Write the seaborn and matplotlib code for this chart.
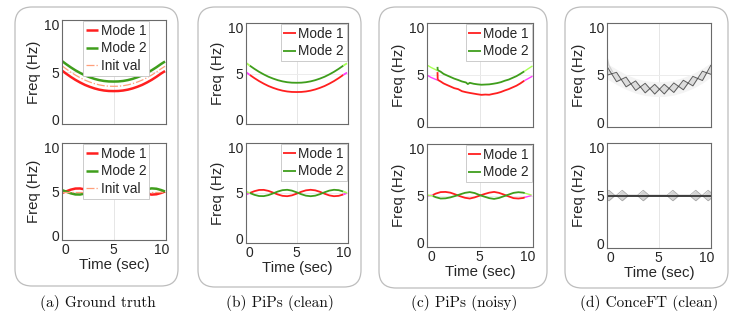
import matplotlib
matplotlib.use("Agg")
import matplotlib.pyplot as plt
from matplotlib.patches import FancyBboxPatch
import numpy as np
import seaborn as sns

# ---- data ----
# time grid (sec) shared by ground truth / clean PiPs curves
t_grid = [-0.4, 0.0, 0.5, 1.0, 1.5, 2.0, 2.5, 3.0, 3.5, 4.0, 4.5, 5.0,
          5.5, 6.0, 6.5, 7.0, 7.5, 8.0, 8.5, 9.0, 9.5, 10.0, 10.4]

# top row: two parabolic chirps (Hz)
mode1_top = [5.15, 4.85, 4.50, 4.18, 3.90, 3.65, 3.45, 3.28, 3.15, 3.06, 3.01, 3.00,
             3.01, 3.06, 3.15, 3.28, 3.45, 3.65, 3.90, 4.18, 4.50, 4.85, 5.10]
mode2_top = [6.15, 5.85, 5.50, 5.18, 4.90, 4.65, 4.45, 4.28, 4.15, 4.06, 4.01, 4.00,
             4.01, 4.06, 4.15, 4.28, 4.45, 4.65, 4.90, 5.18, 5.50, 5.85, 6.10]
init_top = [5.65, 5.35, 5.00, 4.68, 4.40, 4.15, 3.95, 3.78, 3.65, 3.56, 3.51, 3.50,
            3.51, 3.56, 3.65, 3.78, 3.95, 4.15, 4.40, 4.68, 5.00, 5.35, 5.60]

# bottom row: two crossing modes around 5 Hz
mode1_bot = [4.84, 5.00, 5.20, 5.33, 5.34, 5.23, 5.04, 4.84, 4.69, 4.65, 4.74, 4.92,
             5.13, 5.29, 5.35, 5.29, 5.13, 4.92, 4.74, 4.65, 4.69, 4.84, 5.00]
mode2_bot = [5.16, 5.00, 4.80, 4.67, 4.66, 4.77, 4.96, 5.16, 5.31, 5.35, 5.26, 5.08,
             4.87, 4.71, 4.65, 4.71, 4.87, 5.08, 5.26, 5.35, 5.31, 5.16, 5.00]
init_bot = [5.0] * len(t_grid)

# PiPs (noisy), top row
noisy1_t = [0.7, 1.0, 1.3, 1.6, 2.0, 2.4, 2.8, 3.2, 3.6, 4.0, 4.4, 4.8,
            5.2, 5.6, 6.0, 6.4, 6.8, 7.2, 7.6, 8.0, 8.4, 8.8, 9.2, 9.6]
noisy1_f = [4.50, 4.32, 4.12, 3.98, 3.80, 3.62, 3.52, 3.30, 3.20, 3.12, 3.05, 2.98,
            2.92, 2.95, 2.93, 3.02, 3.10, 3.22, 3.38, 3.52, 3.70, 3.88, 4.12, 4.40]
noisy2_t = [0.7, 1.0, 1.3, 1.6, 2.0, 2.4, 2.8, 3.2, 3.6, 3.8, 4.0, 4.4, 4.8,
            5.2, 5.6, 6.0, 6.4, 6.8, 7.2, 7.6, 8.0, 8.4, 8.8, 9.2, 9.6]
noisy2_f = [5.50, 5.35, 5.12, 4.98, 4.80, 4.62, 4.48, 4.32, 4.22, 4.05, 4.18, 4.08, 4.02,
            3.98, 4.00, 4.02, 4.08, 4.15, 4.25, 4.40, 4.52, 4.70, 4.88, 5.12, 5.38]
# start-up transients (vertical jumps) of the noisy estimates
spike_t = [0.68, 0.7]
spike1_f = [5.30, 4.50]
spike2_f = [5.85, 5.50]
edge_t_left = [-0.4, 0.0, 0.7]
edge_t_right = [9.6, 10.0, 10.45]
noisy1_left = [5.00, 4.75, 4.45]
noisy1_right = [4.40, 4.62, 4.88]
noisy2_left = [6.05, 5.80, 5.45]
noisy2_right = [5.38, 5.65, 5.95]

# PiPs (noisy), bottom row
noisyb_t = [0.2, 0.5, 1.0, 1.5, 2.0, 2.5, 3.0, 3.5, 4.0, 4.5, 5.0, 5.5, 6.0,
            6.5, 7.0, 7.5, 8.0, 8.5, 9.0, 9.5, 9.65]
noisyb1 = [5.05, 5.20, 5.36, 5.38, 5.30, 5.12, 4.92, 4.76, 4.68, 4.80, 4.98, 5.15, 5.30,
           5.38, 5.28, 5.10, 4.90, 4.72, 4.68, 4.74, 4.80]
noisyb2 = [4.95, 4.82, 4.68, 4.70, 4.80, 4.95, 5.12, 5.28, 5.36, 5.26, 5.05, 4.88, 4.72,
           4.64, 4.74, 4.92, 5.10, 5.28, 5.35, 5.30, 5.25]
edgeb_t_left = [-0.35, 0.2]
edgeb_t_right = [9.65, 10.35]
noisyb1_left = [4.95, 5.05]
noisyb1_right = [4.80, 5.00]
noisyb2_left = [5.05, 4.95]
noisyb2_right = [5.25, 5.05]

# ConceFT (clean), top: two interfering ridges forming a chain of crosses
cft_t = [-0.4, 0.6, 1.6, 2.6, 3.6, 4.6, 5.6, 6.6, 7.6, 8.6, 9.6, 10.5]
cft_a = [5.90, 4.30, 4.78, 3.38, 4.13, 3.00, 4.03, 3.17, 4.45, 3.86, 5.40, 5.07]
cft_b = [4.98, 5.28, 3.76, 4.38, 3.13, 4.02, 3.01, 4.17, 3.45, 4.86, 4.42, 6.05]
# faint envelope around the ridges
cft_env_hi = [6.2, 5.6, 5.05, 4.65, 4.4, 4.3, 4.3, 4.45, 4.75, 5.15, 5.7, 6.3]
cft_env_lo = [4.6, 4.0, 3.5, 3.1, 2.85, 2.75, 2.75, 2.9, 3.2, 3.6, 4.15, 4.8]
wisp_t = [-0.4, -0.2, 0.2]
wisp_f = [6.9, 6.0, 5.3]

# ConceFT (clean), bottom: ridge at 5 Hz with blobs
cfb_t = [-0.4, -0.2, 0.4, 0.6, 1.2, 1.8, 2.8, 3.4, 4.0,
         5.9, 6.5, 7.1, 8.3, 8.9, 9.5, 9.6, 10.2, 10.5]
cfb_up = [5.45, 5.55, 5.04, 5.04, 5.55, 5.04, 5.04, 5.55, 5.04,
          5.04, 5.55, 5.04, 5.04, 5.55, 5.04, 5.04, 5.55, 5.3]
cfb_lo = [4.55, 4.45, 4.96, 4.96, 4.45, 4.96, 4.96, 4.45, 4.96,
          4.96, 4.45, 4.96, 4.96, 4.45, 4.96, 4.96, 4.45, 4.7]

captions = ["(a) Ground truth", "(b) PiPs (clean)", "(c) PiPs (noisy)", "(d) ConceFT (clean)"]

RED = "#ff1f1f"
GREEN = "#3f9e1c"
MAGENTA = "#ff3dff"
LGREEN = "#a8ff55"
SALMON = "#ff9f7a"

sns.set_style("white")
plt.rcParams["font.family"] = ["Liberation Sans", "DejaVu Sans"]
plt.rcParams["lines.solid_capstyle"] = "butt"

W, H = 739, 319
fig = plt.figure(figsize=(W / 100, H / 100), dpi=100)


def px_axes(x0, x1, y0, y1):
    return fig.add_axes([x0 / W, 1 - y1 / H, (x1 - x0) / W, (y1 - y0) / H])


def style(ax, bottom_row):
    ax.set_xlim(-0.4, 10.5)
    ax.set_ylim(-0.45, 10.45)
    ax.set_xticks([0, 5, 10])
    ax.set_yticks([0, 5, 10])
    ax.axvline(5, color="#e6e6e6", lw=0.7, zorder=0)
    ax.axhline(5, color="#ececec", lw=0.7, zorder=0)
    for s in ax.spines.values():
        s.set_visible(True)
        s.set_color("#6a6a6a")
        s.set_linewidth(0.8)
    ax.tick_params(direction="in", length=2.5, width=0.6, colors="#6a6a6a",
                   labelcolor="#262626", labelsize=10, pad=2)
    ax.set_ylabel("Freq (Hz)", fontsize=10.8, labelpad=2, color="#262626")
    if bottom_row:
        ax.set_xlabel("Time (sec)", fontsize=10.8, labelpad=1, color="#262626")
    else:
        ax.set_xticklabels([])
        ax.set_xlabel("")


def legend(ax, loc, anchor):
    leg = ax.legend(loc=loc, bbox_to_anchor=anchor, fontsize=9.8, handlelength=0.9,
                    handletextpad=0.2, labelspacing=0.25, borderpad=0.2,
                    borderaxespad=0.1, frameon=True, fancybox=False,
                    edgecolor="#c4c4c4", framealpha=1)
    leg.get_frame().set_linewidth(0.6)


# rounded panel boxes (pixel positions)
boxes = [(15, 178), (198, 361), (379, 547), (565, 728)]
box_bottoms = [286, 287, 288, 288]
for (x0, x1), yb in zip(boxes, box_bottoms):
    fig.add_artist(FancyBboxPatch((x0 / 100, (H - yb) / 100), (x1 - x0) / 100, (yb - 7) / 100,
                                  boxstyle="round,pad=0,rounding_size=0.17",
                                  transform=fig.dpi_scale_trans, fc="none",
                                  ec="#bdbdbd", lw=0.9))

# ---- (a) ground truth ----
ax = px_axes(62, 166, 20, 124)
sns.lineplot(x=t_grid, y=mode1_top, ax=ax, color=RED, lw=1.8, label="Mode 1")
sns.lineplot(x=t_grid, y=mode2_top, ax=ax, color=GREEN, lw=1.8, label="Mode 2")
sns.lineplot(x=t_grid, y=init_top, ax=ax, color=SALMON, lw=0.9, ls="-.", label="Init val")
style(ax, False)
legend(ax, "upper center", (0.52, 1.0))

ax = px_axes(62, 166, 143, 240)
sns.lineplot(x=t_grid, y=mode1_bot, ax=ax, color=RED, lw=1.8, label="Mode 1")
sns.lineplot(x=t_grid, y=mode2_bot, ax=ax, color=GREEN, lw=1.8, label="Mode 2")
sns.lineplot(x=t_grid, y=init_bot, ax=ax, color=SALMON, lw=0.9, ls="-.", label="Init val")
style(ax, True)
legend(ax, "upper center", (0.52, 1.0))

# ---- (b) PiPs clean ----
ax = px_axes(246, 348, 23, 124)
sns.lineplot(x=t_grid[1:-1], y=mode1_top[1:-1], ax=ax, color=RED, lw=1.3, label="Mode 1")
sns.lineplot(x=t_grid[1:-1], y=mode2_top[1:-1], ax=ax, color=GREEN, lw=1.3, label="Mode 2")
for sl in (slice(0, 2), slice(-2, None)):
    ax.plot(t_grid[sl], mode1_top[sl], color=MAGENTA, lw=1.3)
    ax.plot(t_grid[sl], mode2_top[sl], color=LGREEN, lw=1.3)
style(ax, False)
legend(ax, "upper right", (1.0, 1.0))

ax = px_axes(246, 348, 143, 243)
sns.lineplot(x=t_grid[1:-1], y=mode1_bot[1:-1], ax=ax, color=RED, lw=1.3, label="Mode 1")
sns.lineplot(x=t_grid[1:-1], y=mode2_bot[1:-1], ax=ax, color=GREEN, lw=1.3, label="Mode 2")
for sl in (slice(0, 2), slice(-2, None)):
    ax.plot(t_grid[sl], mode1_bot[sl], color=MAGENTA, lw=1.3)
    ax.plot(t_grid[sl], mode2_bot[sl], color=LGREEN, lw=1.3)
style(ax, True)
legend(ax, "upper right", (1.0, 1.0))

# ---- (c) PiPs noisy ----
ax = px_axes(427, 533, 23, 127)
ax.plot(edge_t_left, noisy1_left, color=MAGENTA, lw=1.0)
ax.plot(edge_t_right, noisy1_right, color=MAGENTA, lw=1.0)
ax.plot(edge_t_left, noisy2_left, color=LGREEN, lw=1.0)
ax.plot(edge_t_right, noisy2_right, color=LGREEN, lw=1.0)
sns.lineplot(x=noisy1_t, y=noisy1_f, ax=ax, color=RED, lw=1.3, label="Mode 1")
sns.lineplot(x=noisy2_t, y=noisy2_f, ax=ax, color=GREEN, lw=1.3, label="Mode 2")
ax.plot(spike_t, spike1_f, color=RED, lw=1.3)
ax.plot(spike_t, spike2_f, color=GREEN, lw=1.3)
style(ax, False)
legend(ax, "upper right", (1.0, 1.0))

ax = px_axes(427, 533, 144, 247)
ax.plot(edgeb_t_left, noisyb1_left, color=MAGENTA, lw=1.0)
ax.plot(edgeb_t_right, noisyb1_right, color=MAGENTA, lw=1.0)
ax.plot(edgeb_t_left, noisyb2_left, color=LGREEN, lw=1.0)
ax.plot(edgeb_t_right, noisyb2_right, color=LGREEN, lw=1.0)
sns.lineplot(x=noisyb_t, y=noisyb1, ax=ax, color=RED, lw=1.3, label="Mode 1")
sns.lineplot(x=noisyb_t, y=noisyb2, ax=ax, color=GREEN, lw=1.3, label="Mode 2")
style(ax, True)
legend(ax, "upper right", (1.0, 1.0))

# ---- (d) ConceFT clean ----
ax = px_axes(607, 711, 23, 127)
ax.fill_between(cft_t, cft_env_hi, cft_env_lo, color="#f3f3f3", lw=0)
ax.fill_between(cft_t, cft_a, cft_b, color="#dcdcdc", lw=0)
sns.lineplot(x=wisp_t, y=wisp_f, ax=ax, color="#d2d2d2", lw=1.0)
sns.lineplot(x=cft_t, y=cft_a, ax=ax, color="#3a3a3a", lw=0.7, alpha=0.8)
sns.lineplot(x=cft_t, y=cft_b, ax=ax, color="#3a3a3a", lw=0.7, alpha=0.8)
style(ax, False)

ax = px_axes(607, 711, 143, 248)
ax.fill_between(cfb_t, cfb_up, cfb_lo, color="#d4d4d4", lw=0)
sns.lineplot(x=cfb_t, y=cfb_up, ax=ax, color="#a0a0a0", lw=0.5)
sns.lineplot(x=cfb_t, y=cfb_lo, ax=ax, color="#a0a0a0", lw=0.5)
sns.lineplot(x=cfb_t, y=np.add(cfb_up, cfb_lo) / 2, ax=ax, color="#1a1a1a", lw=1.1)
style(ax, True)

# captions
cap_x = [98, 280, 464, 649]
for x, txt in zip(cap_x, captions):
    fig.text(x / W, 1 - 303 / H, txt, ha="center", va="center",
             family="cmr10", fontsize=11, color="#111111")

fig.savefig("out.png", dpi=100)
